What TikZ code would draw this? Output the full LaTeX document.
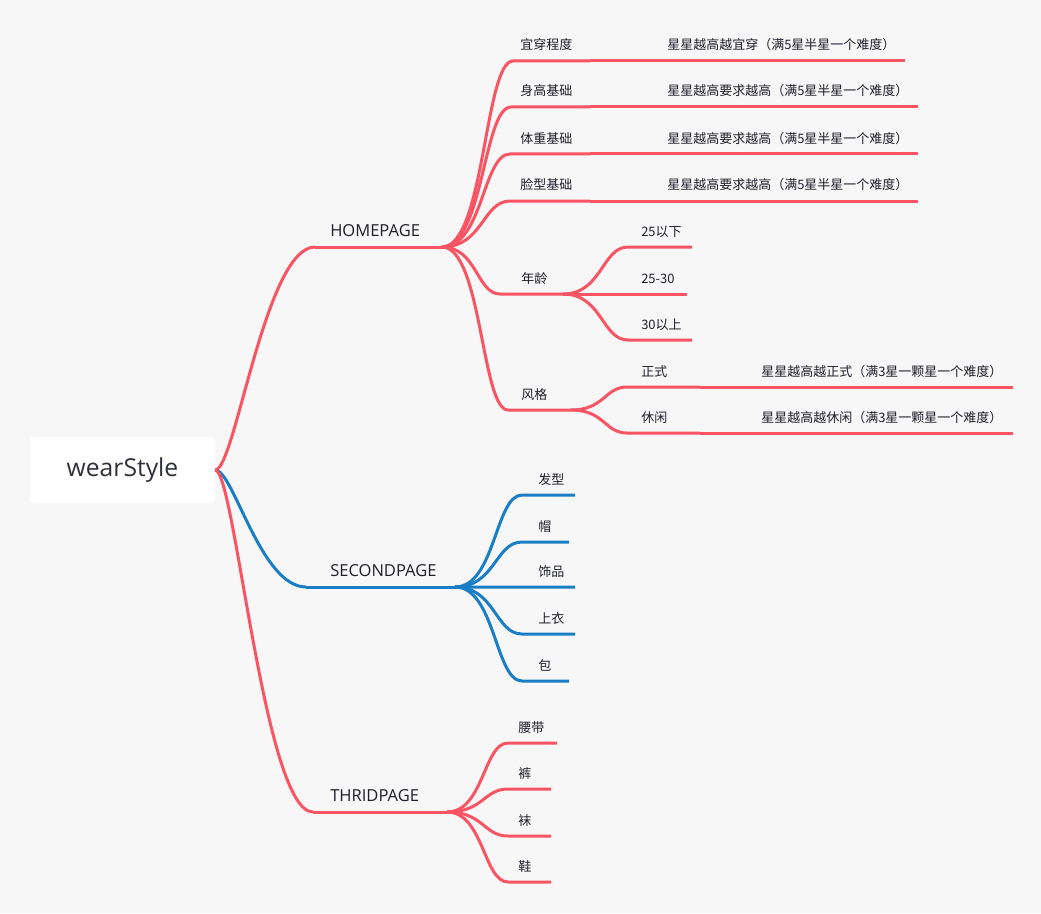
\documentclass[tikz,border=0pt]{standalone}
\usepackage{fontspec}
\setmainfont{Open Sans}
\newfontfamily\cjk{Noto Sans CJK SC}
\usetikzlibrary{calc}
\definecolor{bg}{HTML}{F7F7F7}
\definecolor{mred}{HTML}{F95464}
\definecolor{mblue}{HTML}{1A7EC6}
\definecolor{ink}{HTML}{1F1F2B}
\definecolor{rootink}{HTML}{30303C}
\tikzset{
  redline/.style={draw=mred, line width=2.25pt, line join=round},
  blueline/.style={draw=mblue, line width=2.25pt, line join=round},
  maintxt/.style={anchor=base west, inner sep=0pt, text=ink, font=\fontsize{12.4pt}{14pt}\selectfont},
  subtxt/.style={anchor=base west, inner sep=0pt, text=ink, font=\cjk\fontsize{9.75pt}{12pt}\selectfont},
  rootbox/.style={fill=white, rounded corners=3pt, minimum width=138.75pt, minimum height=49.5pt, inner sep=0pt, text=rootink, font=\fontsize{18.5pt}{22pt}\selectfont},
}
\newcommand\rootlink[3]{\draw[#3] (#1) .. controls ($(#1)!0.2!(#1 -| #2)$) and ($(#2 -| #1)!0.5!(#2)$) .. (#2);}
\newcommand\sublink[4]{\draw[#4] (#1) .. controls ($(#1)!0.6!(#1 -| #2)$) and ($(#2 -| #1)!0.6!(#2)$) .. (#2) -- (#3);}
\begin{document}
\begin{tikzpicture}[x=0.75pt, y=-0.75pt]
\fill[bg] (0,0) rectangle (1041,913);
\useasboundingbox (0,0) rectangle (1041,913);

% root
\node[rootbox] (root) at (122.5,470) {wearStyle};

% main topic underline ends
\coordinate (hpL) at (315,247); \coordinate (hpR) at (442,247);
\coordinate (spL) at (306,587); \coordinate (spR) at (455,587);
\coordinate (tpL) at (313,812); \coordinate (tpR) at (447,812);

\rootlink{root.east}{hpL}{redline}
\rootlink{root.east}{spL}{blueline}
\rootlink{root.east}{tpL}{redline}
\draw[redline] (hpL) -- (hpR);
\draw[blueline] (spL) -- (spR);
\draw[redline] (tpL) -- (tpR);

\node[maintxt] (tHome) at (330,236.5) {HOMEPAGE};
\node[maintxt] (tSecond) at (330,576.5) {SECONDPAGE};
\node[maintxt] (tThird) at (330,801.5) {THRIDPAGE};

% HOMEPAGE children
\coordinate (h1L) at (513,61);  \coordinate (h1R) at (590,61);
\coordinate (h1aL) at (655,61); \coordinate (h1aR) at (905,61);
\coordinate (h2L) at (511,107); \coordinate (h2R) at (590,107);
\coordinate (h2aL) at (655,107); \coordinate (h2aR) at (918,107);
\coordinate (h3L) at (510,154); \coordinate (h3R) at (590,154);
\coordinate (h3aL) at (655,154); \coordinate (h3aR) at (918,154);
\coordinate (h4L) at (510,201); \coordinate (h4R) at (590,201);
\coordinate (h4aL) at (655,201); \coordinate (h4aR) at (918,201);
\coordinate (h5L) at (500,294); \coordinate (h5R) at (563,294);
\coordinate (h6L) at (508,410); \coordinate (h6R) at (571,410);

\sublink{hpR}{h1L}{h1R}{redline}
\sublink{hpR}{h2L}{h2R}{redline}
\sublink{hpR}{h3L}{h3R}{redline}
\sublink{hpR}{h4L}{h4R}{redline}
\sublink{hpR}{h5L}{h5R}{redline}
\sublink{hpR}{h6L}{h6R}{redline}
\draw[redline] (h1R) -- (h1aL) -- (h1aR);
\draw[redline] (h2R) -- (h2aL) -- (h2aR);
\draw[redline] (h3R) -- (h3aL) -- (h3aR);
\draw[redline] (h4R) -- (h4aL) -- (h4aR);

\node[subtxt] (th1) at (520,50) {宜穿程度};
\node[subtxt] (th1a) at (667,50) {星星越高越宜穿（满5星半星一个难度）};
\node[subtxt] (th2) at (520,96) {身高基础};
\node[subtxt] (th2a) at (667,96) {星星越高要求越高（满5星半星一个难度）};
\node[subtxt] (th3) at (520,143) {体重基础};
\node[subtxt] (th3a) at (667,143) {星星越高要求越高（满5星半星一个难度）};
\node[subtxt] (th4) at (520,190) {脸型基础};
\node[subtxt] (th4a) at (667,190) {星星越高要求越高（满5星半星一个难度）};
\node[subtxt] (th5) at (521,283) {年龄};
\node[subtxt] (th6) at (521,399) {风格};

% 年龄 children
\coordinate (a1L) at (628,247); \coordinate (a1R) at (692,247);
\coordinate (a2L) at (628,294); \coordinate (a2R) at (687,294);
\coordinate (a3L) at (628,340); \coordinate (a3R) at (692,340);
\sublink{h5R}{a1L}{a1R}{redline}
\sublink{h5R}{a2L}{a2R}{redline}
\sublink{h5R}{a3L}{a3R}{redline}
\node[subtxt] (ta1) at (641,236) {25以下};
\node[subtxt] (ta2) at (641,283) {25-30};
\node[subtxt] (ta3) at (641,329) {30以上};

% 风格 children
\coordinate (s1L) at (627,387); \coordinate (s1R) at (700,387);
\coordinate (s1aL) at (750,387); \coordinate (s1aR) at (1013,387);
\coordinate (s2L) at (627,433); \coordinate (s2R) at (700,433);
\coordinate (s2aL) at (750,433); \coordinate (s2aR) at (1013,433);
\sublink{h6R}{s1L}{s1R}{redline}
\sublink{h6R}{s2L}{s2R}{redline}
\draw[redline] (s1R) -- (s1aL) -- (s1aR);
\draw[redline] (s2R) -- (s2aL) -- (s2aR);
\node[subtxt] (ts1) at (641,376) {正式};
\node[subtxt] (ts1a) at (761,376) {星星越高越正式（满3星一颗星一个难度）};
\node[subtxt] (ts2) at (641,422) {休闲};
\node[subtxt] (ts2a) at (761,422) {星星越高越休闲（满3星一颗星一个难度）};

% SECONDPAGE children
\coordinate (b1L) at (522,495); \coordinate (b1R) at (575,495);
\coordinate (b2L) at (522,542); \coordinate (b2R) at (569,542);
\coordinate (b3L) at (522,587); \coordinate (b3R) at (575,587);
\coordinate (b4L) at (522,634); \coordinate (b4R) at (575,634);
\coordinate (b5L) at (522,681); \coordinate (b5R) at (569,681);
\sublink{spR}{b1L}{b1R}{blueline}
\sublink{spR}{b2L}{b2R}{blueline}
\sublink{spR}{b3L}{b3R}{blueline}
\sublink{spR}{b4L}{b4R}{blueline}
\sublink{spR}{b5L}{b5R}{blueline}
\node[subtxt] (tb1) at (538,484) {发型};
\node[subtxt] (tb2) at (538,531) {帽};
\node[subtxt] (tb3) at (538,576) {饰品};
\node[subtxt] (tb4) at (538,623) {上衣};
\node[subtxt] (tb5) at (538,670) {包};

% THRIDPAGE children
\coordinate (t1L) at (508,743); \coordinate (t1R) at (557,743);
\coordinate (t2L) at (508,789); \coordinate (t2R) at (551,789);
\coordinate (t3L) at (508,836); \coordinate (t3R) at (551,836);
\coordinate (t4L) at (508,882); \coordinate (t4R) at (551,882);
\sublink{tpR}{t1L}{t1R}{redline}
\sublink{tpR}{t2L}{t2R}{redline}
\sublink{tpR}{t3L}{t3R}{redline}
\sublink{tpR}{t4L}{t4R}{redline}
\node[subtxt] (tt1) at (518,732) {腰带};
\node[subtxt] (tt2) at (518,778) {裤};
\node[subtxt] (tt3) at (518,825) {袜};
\node[subtxt] (tt4) at (518,871) {鞋};
\end{tikzpicture}
\end{document}
